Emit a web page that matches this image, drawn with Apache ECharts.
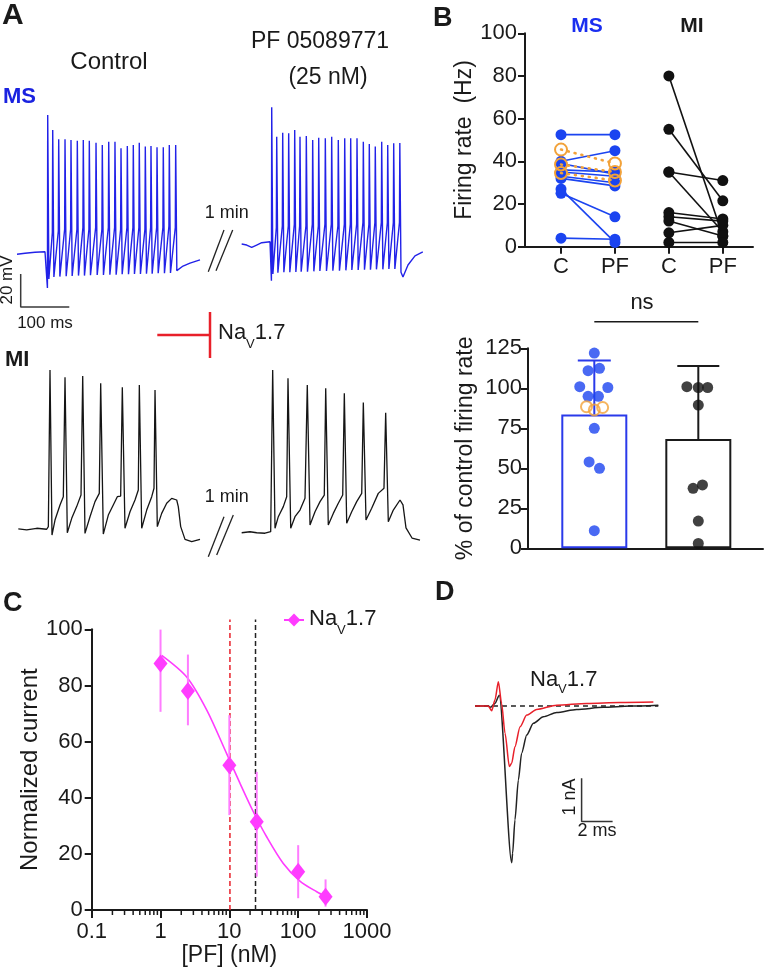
<!DOCTYPE html>
<html><head><meta charset="utf-8">
<script src="https://cdn.jsdelivr.net/npm/echarts@6/dist/echarts.min.js"></script>
<style>html,body{margin:0;padding:0;background:#fff}#c{width:766px;height:977px}</style>
</head><body><div id="c"></div>
<script>
// ---------------- DATA ----------------
// Panel A: MS neuron, control (time ms, Vm mV)
const msCtrlBaseline = [[0,-65.1],[16.5,-64.5],[37,-63.9],[57.6,-63.6]];
const msCtrlArtifact = -85.5;
const msCtrlSpikeT = [63.2,73.5,85.8,98.8,111.1,124.1,136.4,148.8,162.6,175.5,188.7,201.6,214.0,227.0,239.3,251.6,264.0,275.7,288.1,301.0,313.4,326.5];
const msCtrlPeak = [19.1,10.0,4.4,4.4,4.0,3.6,4.0,3.6,2.4,1.0,3.0,3.0,-1.0,0.4,1.0,2.4,0.0,0.4,-0.4,-0.4,1.0,1.0];
const msCtrlTrough = [-80.0,-78.8,-78.6,-78.4,-78.2,-78.0,-78.0,-77.8,-77.6,-77.6,-77.4,-77.4,-77.2,-77.2,-77.0,-77.0,-76.8,-76.8,-76.6,-76.6,-76.4,-75.0];
const msCtrlOnset = [-52,-51,-50,-50,-50,-49,-50,-49,-50,-49,-49,-50,-49,-49,-49,-50,-49,-49,-49,-48,-49];
const msCtrlTail = [[331.9,-74.6],[341.6,-72.2],[356,-70.4],[376.5,-68.5]];
// Panel A: MS neuron, PF 05089771
const msPfBaseline = [[462.3,-58.9],[472.6,-59.5],[482.9,-60.9],[493.2,-59.5],[503.5,-58.1],[520.6,-57.5]];
const msPfArtifact = -81.1;
const msPfSpikeT = [524.1,534.4,546.7,559.0,571.4,582.3,595.3,608.4,620.8,634.4,647.5,661.1,674.3,686.6,699.6,712.6,724.9,737.2,750.4,762.8,775.1,787.7];
const msPfPeak = [23.8,6.0,8.4,8.1,10.0,6.0,6.4,4.0,5.4,5.0,6.0,4.0,5.0,5.0,5.0,3.0,1.6,0.0,3.0,1.0,2.0,2.2];
const msPfTrough = [-77.0,-76.2,-76.0,-76.0,-75.8,-75.6,-75.6,-75.4,-75.2,-75.2,-75.0,-75.0,-74.8,-74.6,-74.6,-74.4,-74.4,-74.2,-74.2,-74.0,-74.0,-76.0];
const msPfOnset = [-49,-48,-48,-47,-48,-48,-47,-48,-47,-47,-48,-47,-47,-47,-46,-47,-46,-46,-46,-46,-46];
const msPfTail = [[794.2,-78.8],[804.5,-71.6],[818.9,-66.1],[835.0,-63.7]];
// Panel A: MI neuron traces (time ms, Vm mV)
const miCtrlTrace = [[2.7,-65.2],[19.9,-65.8],[40.5,-64.8],[61.1,-65.4],[64.5,-63.8],[67.9,30.9],[72.0,-68.9],[78.2,-59.8],[88.5,-50.7],[95.3,-45.7],[98.8,26.5],[103.5,-67.5],[112.6,-58.8],[122.8,-51.7],[131.7,-44.7],[135.2,27.3],[139.9,-67.9],[150.2,-57.8],[160.5,-48.7],[169.3,-43.7],[172.2,22.9],[177.6,-68.3],[187.9,-56.8],[198.1,-50.7],[206.4,-45.7],[213.3,-45.3],[216.7,20.5],[222.2,-64.8],[232.5,-54.8],[242.8,-47.7],[249.6,-41.7],[251.7,21.9],[256.6,-64.8],[266.9,-53.8],[277.2,-45.7],[281.9,-40.6],[284.0,18.8],[288.7,-63.8],[297.7,-55.8],[308.0,-49.7],[318.3,-46.7],[328.6,-47.7],[331.9,-51.7],[336.8,-63.8],[345.7,-71.5],[359.5,-72.9],[376.5,-71.5]];
const miPfTrace = [[462.3,-67.5],[479.4,-66.9],[493.2,-67.5],[510.3,-67.8],[522.0,-66.9],[526.1,30.9],[530.9,-64.8],[537.7,-57.8],[548.0,-51.7],[554.9,-45.7],[557.6,25.9],[563.2,-64.8],[572.0,-57.8],[582.3,-53.8],[592.6,-46.7],[597.3,21.9],[602.9,-62.8],[613.2,-54.8],[623.5,-48.7],[632.3,-44.7],[635.2,19.9],[640.5,-62.8],[650.8,-55.8],[661.1,-49.7],[670.2,-44.7],[673.5,16.8],[678.4,-61.8],[688.7,-54.8],[699.0,-48.7],[709.3,-43.7],[712.6,11.2],[718.1,-59.8],[729.8,-52.7],[743.4,-43.7],[755.1,-40.6],[758.6,5.1],[764.0,-60.8],[774.3,-53.8],[788.1,-47.7],[794.2,-50.7],[800.4,-64.6],[812.8,-70.7],[829.2,-71.9]];

// Panel B top: firing rate (Hz), paired C -> PF
const bCategories = ['C','PF','C','PF'];
const msBlueC  = [52.5,40,39,36,35,33,32,27,25,4];
const msBluePF = [52.5,45,34,35,33,30,28.5,2,14,3.5];
const msOrangeC  = [45.5,38.5,34.5];
const msOrangePF = [39,35,31];
const miC  = [80,55,35,35,16,14,12,6.5,2];
const miPF = [5,21.5,31,7,13,12,5,10,2];

// Panel B bottom: % of control firing rate
const pctMeans = [83.7, 68.3];
const pctSdTop = [117.3, 114];
const nsLevel = 141.6;
const msPctBlueOffset = [0.00,0.05,-0.06,-0.14,0.13,-0.06,0.04,0.00,-0.05,0.05,0.00];
const msPctBlue       = [122,112.5,111,101,100.5,95,95,75,54,50,11];
const msPctOrangeOffset = [-0.075,0.0,0.08];
const msPctOrange       = [88.5,86.5,88];
const miPctOffset = [0,-0.11,0,0.09,0,-0.05,0.04,0,0];
const miPct       = [133,101,100.5,100.5,89.5,37.5,39.6,17,3];

// Panel C: concentration-response
const cTickLabels = ['0.1','1','10','100','1000'];
const pfConc  = [1,2.5,10,25,100,250];
const navMean = [87.8,78,51.6,31.4,13.6,4.7];
const navErrLo = [70.6,65.8,33.8,11.9,4.2,1.2];
const navErrHi = [99.9,91,69.4,49.2,23.1,10.9];
const fitConc = [1.04,2.4,4.7,9.1,14.3,22.3,34.8,60.8,106,186,259];
const fitVal  = [90.7,83,71.2,55.8,45.1,35,26.1,16.6,10.3,6.5,4.7];
const redDashConc = 10.2, blackDashConc = 24, dashTop = 103.5;
const minorTickConc = [0.2,0.3,0.4,0.5,0.6,0.7,0.8,0.9,2,3,4,5,6,7,8,9,20,30,40,50,60,70,80,90,200,300,400,500,600,700,800,900];

// Panel D: Nav1.7 currents (ms, nA)
const dControl = [[0.32,0],[1.18,0],[1.33,-0.03],[1.61,0.06],[1.89,0.25],[2.69,-3.62],[2.75,-3.40],[2.90,-2.63],[3.12,-1.71],[3.33,-1.09],[3.66,-0.67],[4.09,-0.40],[4.73,-0.25],[5.59,-0.15],[6.88,-0.08],[8.6,-0.03],[10.32,0],[12.15,0.02]];
const dPF = [[0.32,0],[1.18,0],[1.40,-0.11],[1.61,0.14],[1.83,0.56],[2.04,0.06],[2.26,-0.63],[2.54,-1.40],[2.69,-1.32],[2.90,-0.94],[3.23,-0.48],[3.66,-0.21],[4.30,-0.08],[5.59,0.02],[7.53,0.06],[9.68,0.08],[11.83,0.09]];

// ---------------- STYLE ----------------
const FONT = '"Liberation Sans", Arial, Helvetica, sans-serif';
const INK = '#1a1a1a';
const BLUE_TRACE = '#2222e8';
const BLUE = '#1b44f0';
const ORANGE = '#f2a23a';
const MAGENTA = '#ff3cff';
const MAGENTA_ERR = '#ff7cff';
const RED = '#e8202a';

function buildSpikeTrace(baseline, artifact, T, P, Tr, On, tail) {
  const pts = baseline.slice();
  for (let i = 0; i < T.length; i++) {
    pts.push(i === 0 ? [T[0] - 0.6, artifact] : [T[i] - 0.8, On[i - 1]]);
    pts.push([T[i], P[i]]);
    pts.push([T[i] + 2.4, Tr[i]]);
  }
  return pts.concat(tail);
}
function trace(ax, data, color, width, extra) {
  return Object.assign({type:'line', xAxisIndex:ax, yAxisIndex:ax, data, symbol:'none', showSymbol:false,
    lineStyle:{color, width}, clip:false, silent:true, emphasis:{disabled:true}, animation:false}, extra || {});
}
const hidden = (g, min, max) => ({gridIndex:g, type:'value', show:false, min, max});
const axLine = {show:true, onZero:false, lineStyle:{color:INK, width:2}};
const tickStyle = {color:INK, width:2};

const series = [];
// --- Panel A
series.push(trace(0, buildSpikeTrace(msCtrlBaseline, msCtrlArtifact, msCtrlSpikeT, msCtrlPeak, msCtrlTrough, msCtrlOnset, msCtrlTail), BLUE_TRACE, 1.4));
series.push(trace(0, buildSpikeTrace(msPfBaseline, msPfArtifact, msPfSpikeT, msPfPeak, msPfTrough, msPfOnset, msPfTail), BLUE_TRACE, 1.4));
series.push(trace(0, [[7.6,-77],[7.6,-97],[107.6,-97]], '#3a3a3a', 1.5));
series.push(trace(1, miCtrlTrace, '#151515', 1.3));
series.push(trace(1, miPfTrace, '#151515', 1.3));

// --- Panel B top
msBlueC.forEach((c, i) => series.push({type:'line', xAxisIndex:2, yAxisIndex:2, data:[[1,c],[2,msBluePF[i]]],
  symbol:'circle', symbolSize:11, showSymbol:true, itemStyle:{color:BLUE}, lineStyle:{color:BLUE, width:1.6},
  clip:false, silent:true, animation:false, z:3}));
msOrangeC.forEach((c, i) => series.push({type:'line', xAxisIndex:2, yAxisIndex:2, data:[[1,c],[2,msOrangePF[i]]],
  symbol:'circle', symbolSize:12, showSymbol:true, itemStyle:{color:'rgba(0,0,0,0)', borderColor:ORANGE, borderWidth:2},
  lineStyle:{color:ORANGE, width:2.6, type:[1,6], cap:'round'}, clip:false, silent:true, animation:false, z:4}));
miC.forEach((c, i) => series.push({type:'line', xAxisIndex:2, yAxisIndex:2, data:[[3,c],[4,miPF[i]]],
  symbol:'circle', symbolSize:11, showSymbol:true, itemStyle:{color:'#111'}, lineStyle:{color:'#111', width:1.6},
  clip:false, silent:true, animation:false, z:3}));

// --- Panel B bottom
series.push({type:'bar', xAxisIndex:3, yAxisIndex:3, barWidth:66, silent:true, animation:false, z:1,
  data:[{value:[1,pctMeans[0]], itemStyle:{borderColor:'#2a3aea'}}, {value:[2,pctMeans[1]], itemStyle:{borderColor:INK}}],
  itemStyle:{color:'#fff', borderWidth:2}});
const capW = [33, 42], errColor = ['#2a3aea', INK];
series.push({type:'custom', xAxisIndex:3, yAxisIndex:3, silent:true, animation:false, z:2,
  data:[[1,pctMeans[0],pctSdTop[0]],[2,pctMeans[1],pctSdTop[1]]],
  renderItem:(p, api) => {
    const a = api.coord([api.value(0), api.value(1)]), b = api.coord([api.value(0), api.value(2)]);
    const w = capW[p.dataIndex] / 2, st = {stroke:errColor[p.dataIndex], lineWidth:2};
    return {type:'group', children:[
      {type:'line', shape:{x1:a[0],y1:a[1],x2:b[0],y2:b[1]}, style:st},
      {type:'line', shape:{x1:b[0]-w,y1:b[1],x2:b[0]+w,y2:b[1]}, style:st}]};
  }});
series.push(trace(3, [[1,nsLevel],[2,nsLevel]], INK, 1.5));
series.push({type:'scatter', xAxisIndex:3, yAxisIndex:3, data:msPctBlue.map((v,i)=>[1+msPctBlueOffset[i], v]),
  symbolSize:11, itemStyle:{color:BLUE}, silent:true, animation:false, z:5});
series.push({type:'scatter', xAxisIndex:3, yAxisIndex:3, data:msPctOrange.map((v,i)=>[1+msPctOrangeOffset[i], v]),
  symbolSize:11, itemStyle:{color:'rgba(0,0,0,0)', borderColor:ORANGE, borderWidth:2}, silent:true, animation:false, z:6});
series.push({type:'scatter', xAxisIndex:3, yAxisIndex:3, data:miPct.map((v,i)=>[2+miPctOffset[i], v]),
  symbolSize:11, itemStyle:{color:'#111'}, silent:true, animation:false, z:5});

// --- Panel C
const lg = Math.log10;
series.push(trace(4, [[lg(redDashConc),0],[lg(redDashConc),dashTop]], RED, 1.5, {lineStyle:{color:RED, width:1.5, type:[5,3]}, z:1}));
series.push(trace(4, [[lg(blackDashConc),0],[lg(blackDashConc),dashTop]], '#222', 1.5, {lineStyle:{color:'#222', width:1.5, type:[5,3]}, z:1}));
series.push(trace(4, fitConc.map((c,i)=>[lg(c), fitVal[i]]), MAGENTA, 1.6, {smooth:0.3, z:2}));
series.push({type:'custom', xAxisIndex:4, yAxisIndex:4, silent:true, animation:false, z:3,
  data:pfConc.map((c,i)=>[lg(c), navErrLo[i], navErrHi[i]]),
  renderItem:(p, api) => {
    const a = api.coord([api.value(0), api.value(1)]), b = api.coord([api.value(0), api.value(2)]);
    return {type:'line', shape:{x1:a[0],y1:a[1],x2:b[0],y2:b[1]}, style:{stroke:MAGENTA_ERR, lineWidth:2}};
  }});
series.push({type:'line', name:'NaV1.7', xAxisIndex:4, yAxisIndex:4, data:pfConc.map((c,i)=>[lg(c), navMean[i]]),
  symbol:'diamond', symbolSize:[14,18], showSymbol:true, itemStyle:{color:MAGENTA}, lineStyle:{width:0, color:MAGENTA},
  clip:false, silent:true, animation:false, z:4});
series.push({type:'custom', xAxisIndex:4, yAxisIndex:4, silent:true, animation:false, z:5,
  data:minorTickConc.map(c=>[lg(c)]),
  renderItem:(p, api) => {
    const a = api.coord([api.value(0), 0]);
    return {type:'line', shape:{x1:a[0],y1:a[1],x2:a[0],y2:a[1]+5}, style:{stroke:INK, lineWidth:1.5}};
  }});

// --- Panel D
series.push(trace(5, [[0.32,0],[12.15,0]], '#222', 1.5, {lineStyle:{color:'#222', width:1.5, type:[5,4]}, z:1}));
series.push(trace(5, dControl, '#222', 1.5, {smooth:0.25, smoothMonotone:'x', z:2}));
series.push(trace(5, dPF, RED, 1.5, {smooth:0.25, smoothMonotone:'x', z:3}));
series.push(trace(5, [[7.2,-1.67],[7.2,-2.67],[9.2,-2.67]], '#333', 1.5));

// ---------------- GRAPHIC TEXT ----------------
const T = (text, x, y, size, opts) => Object.assign({type:'text', x, y, silent:true,
  style:Object.assign({text, fill:INK, font:(opts && opts.bold ? 'bold ' : '') + size + 'px ' + FONT,
  align:(opts && opts.align) || 'center', verticalAlign:'middle'}, (opts && opts.style) || {})},
  opts && opts.rot ? {rotation:opts.rot} : {});
const L = (x1, y1, x2, y2, stroke, w) => ({type:'line', silent:true, shape:{x1,y1,x2,y2}, style:{stroke, lineWidth:w}});
const navRich = (size, sub, pad) => ({a:{fontSize:size, fontFamily:FONT, fill:INK, lineHeight:size+2, verticalAlign:'top'},
  s:{fontSize:sub, fontFamily:FONT, fill:INK, lineHeight:sub+2, verticalAlign:'top', padding:[pad,0,0,0]}});

const graphic = [
  T('A', 2, 16, 30, {bold:true, align:'left'}),
  T('Control', 109, 62, 24),
  T('PF 05089771', 320, 42, 23),
  T('(25 nM)', 328, 78, 23),
  T('MS', 3, 97, 22, {bold:true, align:'left', style:{fill:'#1a22e0'}}),
  T('MI', 5, 359.5, 22, {bold:true, align:'left'}),
  T('1 min', 226.7, 213, 18),
  T('1 min', 226.7, 497, 18),
  L(208.3,271.7,224,230,'#222',1.3), L(216,270.7,232.7,230,'#222',1.3),
  L(208.3,556.7,224,516.7,'#222',1.3), L(216.7,555,233.3,515,'#222',1.3),
  T('20 mV', 7, 280, 17, {rot:Math.PI/2}),
  T('100 ms', 45, 323, 17),
  L(157.3,335,210,335,RED,2.5), L(210,312,210,358,RED,2.5),
  {type:'text', x:218, y:334, silent:true, style:{text:'{a|Na}{s|V}{a|1.7}', rich:navRich(22,13,16), align:'left', verticalAlign:'middle'}},
  T('B', 433, 19, 27, {bold:true, align:'left'}),
  T('MS', 587, 26, 21, {bold:true, style:{fill:'#1a2ef0'}}),
  T('MI', 692, 26, 21, {bold:true}),
  T('ns', 642, 303, 22),
  T('C', 3, 604, 27, {bold:true, align:'left'}),
  T('D', 435, 593, 27, {bold:true, align:'left'}),
  {type:'text', x:530, y:681, silent:true, style:{text:'{a|Na}{s|V}{a|1.7}', rich:navRich(22,13,14), align:'left', verticalAlign:'middle'}},
  T('1 nA', 570, 797, 18, {rot:Math.PI/2}),
  T('2 ms', 597, 831, 18)
];

// ---------------- OPTION ----------------
const option = {
  animation:false,
  backgroundColor:'#fff',
  textStyle:{fontFamily:FONT},
  grid:[
    {left:17, top:97, width:406, height:215, outerBoundsMode:'none'},
    {left:17, top:355, width:406, height:248, outerBoundsMode:'none'},
    {left:525, top:33.3, width:228, height:213.4, outerBoundsMode:'none'},
    {left:528, top:348.3, width:235, height:200, outerBoundsMode:'none'},
    {left:91.7, top:629.3, width:275.3, height:280.7, outerBoundsMode:'none'},
    {left:470, top:662.7, width:200, height:216.5, outerBoundsMode:'none'}
  ],
  xAxis:[
    hidden(0, 0, 406/0.486),
    hidden(1, 0, 406/0.486),
    {gridIndex:2, type:'value', min:0.332, max:4.56, axisLine:axLine, splitLine:{show:false},
      axisTick:{show:true, length:7, customValues:[1,2,3,4], lineStyle:tickStyle},
      axisLabel:{customValues:[1,2,3,4], formatter:v=>bCategories[Math.round(v)-1], color:INK, fontSize:22, margin:9}},
    {gridIndex:3, type:'value', min:0.3625, max:2.622, axisLine:axLine, splitLine:{show:false}, axisTick:{show:false}, axisLabel:{show:false}},
    {gridIndex:4, type:'value', min:-1, max:3, interval:1, axisLine:axLine, splitLine:{show:false},
      axisTick:{show:true, length:8, lineStyle:tickStyle},
      axisLabel:{formatter:v=>cTickLabels[Math.round(v)+1], color:INK, fontSize:22, margin:11, showMinLabel:true, showMaxLabel:true},
      name:'[PF] (nM)', nameLocation:'middle', nameGap:32, nameTextStyle:{color:INK, fontSize:23}},
    hidden(5, 0, 200/15.5)
  ],
  yAxis:[
    hidden(0, -100, 30),
    hidden(1, -110, 40),
    {gridIndex:2, type:'value', min:0, max:100, interval:20, axisLine:axLine, splitLine:{show:false},
      axisTick:{show:true, length:7, lineStyle:tickStyle},
      axisLabel:{color:INK, fontSize:22, margin:8},
      name:'Firing rate  (Hz)', nameLocation:'middle', nameRotate:90, nameGap:47, nameTextStyle:{color:INK, fontSize:23}},
    {gridIndex:3, type:'value', min:0, max:125, interval:25, axisLine:axLine, splitLine:{show:false},
      axisTick:{show:true, length:7, lineStyle:tickStyle},
      axisLabel:{color:INK, fontSize:22, margin:6},
      name:'% of control firing rate', nameLocation:'middle', nameRotate:90, nameGap:51, nameTextStyle:{color:INK, fontSize:23}},
    {gridIndex:4, type:'value', min:0, max:100, interval:20, axisLine:axLine, splitLine:{show:false},
      axisTick:{show:true, length:7, lineStyle:tickStyle},
      axisLabel:{color:INK, fontSize:22, margin:9},
      name:'Normalized current', nameLocation:'middle', nameRotate:90, nameGap:47, nameTextStyle:{color:INK, fontSize:24}},
    hidden(5, -4, 1)
  ],
  legend:{data:['NaV1.7'], left:278, top:603, itemWidth:20, itemHeight:16, itemGap:6, selectedMode:false,
    lineStyle:{width:2, color:MAGENTA, type:'solid'}, itemStyle:{color:MAGENTA},
    formatter:()=>'{a|Na}{s|V}{a|1.7}',
    textStyle:{rich:{a:{fontSize:22, color:INK, fontFamily:FONT, lineHeight:24, verticalAlign:'top'},
      s:{fontSize:13, color:INK, fontFamily:FONT, lineHeight:15, verticalAlign:'top', padding:[16,0,0,0]}}}},
  series,
  graphic
};
const chart = echarts.init(document.getElementById('c'));
chart.setOption(option);
</script></body></html>
